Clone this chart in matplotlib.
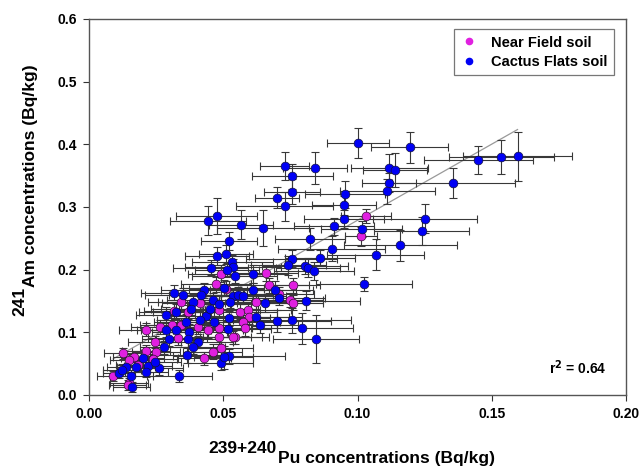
import matplotlib
matplotlib.use("Agg")
import matplotlib.pyplot as plt
from matplotlib.lines import Line2D

plt.rcParams['font.family'] = ['Liberation Sans', 'DejaVu Sans']
plt.rcParams['font.weight'] = 'bold'

# ---- Near Field soil (magenta) ----
nf_x = [0.1031, 0.1014, 0.0490, 0.0474, 0.0511, 0.0660, 0.0670, 0.0708, 0.0760, 0.0750,
        0.0760, 0.0341, 0.0315, 0.0368, 0.0412, 0.0486, 0.0561, 0.0592, 0.0623, 0.0596,
        0.0573, 0.0580, 0.0542, 0.0536, 0.0484, 0.0490, 0.0461, 0.0430, 0.0213, 0.0244,
        0.0265, 0.0310, 0.0331, 0.0343, 0.0405, 0.0443, 0.0486, 0.0250, 0.0213, 0.0169,
        0.0125, 0.0150, 0.0181, 0.0090, 0.0150, 0.0144, 0.0237]
nf_y = [0.2855, 0.2530, 0.1937, 0.1767, 0.1698, 0.1948, 0.1752, 0.1608, 0.1752, 0.1513,
        0.1471, 0.1486, 0.1343, 0.1327, 0.1470, 0.1354, 0.1327, 0.1354, 0.1486, 0.1247,
        0.1168, 0.1062, 0.0929, 0.0918, 0.0929, 0.0743, 0.0690, 0.0584, 0.1045, 0.0849,
        0.1088, 0.1115, 0.0903, 0.1115, 0.1088, 0.1035, 0.1062, 0.0690, 0.0706, 0.0610,
        0.0663, 0.0557, 0.0478, 0.0310, 0.0186, 0.0160, 0.0568]
nf_xerr = [0.0093, 0.0060, 0.012, 0.013, 0.014, 0.012, 0.015, 0.013, 0.010, 0.012,
           0.011, 0.012, 0.011, 0.013, 0.014, 0.015, 0.014, 0.016, 0.013, 0.015,
           0.014, 0.012, 0.013, 0.011, 0.012, 0.012, 0.011, 0.010, 0.010, 0.010,
           0.011, 0.012, 0.011, 0.013, 0.012, 0.013, 0.012, 0.009, 0.009, 0.008,
           0.007, 0.007, 0.008, 0.006, 0.007, 0.007, 0.009]
nf_yerr = [0.011, 0.015, 0.014, 0.012, 0.012, 0.013, 0.012, 0.011, 0.012, 0.011,
           0.012, 0.011, 0.012, 0.011, 0.012, 0.011, 0.012, 0.011, 0.012, 0.012,
           0.011, 0.012, 0.011, 0.010, 0.012, 0.011, 0.012, 0.010, 0.010, 0.010,
           0.011, 0.011, 0.010, 0.011, 0.011, 0.012, 0.011, 0.010, 0.009, 0.009,
           0.009, 0.009, 0.009, 0.008, 0.008, 0.008, 0.009]

# ---- Cactus Flats soil (blue) ----
cf_x = [0.1002, 0.1194, 0.1450, 0.1536, 0.1596, 0.1357, 0.1118, 0.1140, 0.1118, 0.1110,
        0.0953, 0.0950, 0.0949, 0.0912, 0.1015, 0.1251, 0.1239, 0.1160, 0.1068, 0.0904,
        0.1024, 0.0729, 0.0841, 0.0757, 0.0756, 0.0700, 0.0729, 0.0443, 0.0475, 0.0566,
        0.0648, 0.0521, 0.0822,
        0.0476, 0.0509, 0.0534, 0.0536, 0.0514, 0.0454, 0.0542, 0.0611, 0.0755, 0.0743,
        0.0804, 0.0816, 0.0838, 0.0859, 0.0315, 0.0350, 0.0427, 0.0418, 0.0501, 0.0536,
        0.0555, 0.0611, 0.0694, 0.0708, 0.0657, 0.0808, 0.0387, 0.0461, 0.0484, 0.0526,
        0.0573, 0.0285, 0.0325, 0.0380, 0.0434, 0.0449, 0.0362, 0.0412, 0.0467, 0.0523,
        0.0623, 0.0638, 0.0700, 0.0757, 0.0795, 0.0846, 0.0287, 0.0325, 0.0374, 0.0517,
        0.0297, 0.0368, 0.0405, 0.0387, 0.0279, 0.0366, 0.0521, 0.0490, 0.0501, 0.0337,
        0.0200, 0.0219, 0.0260, 0.0175, 0.0138, 0.0113, 0.0123, 0.0157, 0.0159, 0.0213,
        0.0244]
cf_y = [0.402, 0.395, 0.375, 0.380, 0.381, 0.339, 0.3625, 0.359, 0.339, 0.325,
        0.320, 0.303, 0.281, 0.269, 0.265, 0.281, 0.262, 0.239, 0.224, 0.2335,
        0.177, 0.365, 0.362, 0.349, 0.324, 0.315, 0.301, 0.278, 0.2855, 0.272,
        0.267, 0.2457, 0.249,
        0.2218, 0.2245, 0.2122, 0.2040, 0.2000, 0.2028, 0.1900, 0.1927, 0.2176, 0.2070,
        0.2053, 0.2033, 0.1980, 0.2186, 0.1635, 0.1590, 0.1670, 0.1600, 0.1715, 0.1576,
        0.1592, 0.1672, 0.1683, 0.1550, 0.1471, 0.1502, 0.1486, 0.1513, 0.1460, 0.1486,
        0.1576, 0.1274, 0.1327, 0.1380, 0.1258, 0.1380, 0.1168, 0.1194, 0.1157, 0.1221,
        0.1237, 0.1110, 0.1178, 0.1194, 0.1062, 0.0890, 0.1045, 0.1035, 0.1008, 0.1060,
        0.0892, 0.0886, 0.0849, 0.0770, 0.0759, 0.0632, 0.0621, 0.0515, 0.0600, 0.0302,
        0.0584, 0.0462, 0.0425, 0.0451, 0.0451, 0.0355, 0.0398, 0.0302, 0.0133, 0.0372,
        0.0531]
cf_xerr = [0.0116, 0.0143, 0.0203, 0.0196, 0.0203, 0.0230, 0.0143, 0.0120, 0.0100, 0.0177,
           0.0150, 0.0120, 0.0150, 0.0150, 0.0150, 0.0194, 0.0178, 0.0210, 0.0180, 0.0200,
           0.0180, 0.0091, 0.0120, 0.0150, 0.0103, 0.0083, 0.0180, 0.0141, 0.0150, 0.0120,
           0.0170, 0.0105, 0.0130,
           0.012, 0.010, 0.015, 0.018, 0.012, 0.014, 0.016, 0.013, 0.017, 0.014,
           0.016, 0.012, 0.015, 0.013, 0.012, 0.014, 0.016, 0.012, 0.015, 0.018,
           0.013, 0.016, 0.014, 0.017, 0.015, 0.020, 0.013, 0.017, 0.012, 0.014,
           0.016, 0.011, 0.014, 0.015, 0.013, 0.018, 0.012, 0.016, 0.014, 0.015,
           0.017, 0.014, 0.020, 0.022, 0.019, 0.016, 0.011, 0.013, 0.014, 0.016,
           0.010, 0.012, 0.013, 0.012, 0.009, 0.014, 0.021, 0.012, 0.011, 0.012,
           0.008, 0.009, 0.009, 0.007, 0.007, 0.006, 0.007, 0.008, 0.007, 0.008,
           0.010]
cf_yerr = [0.024, 0.025, 0.023, 0.027, 0.039, 0.024, 0.022, 0.027, 0.015, 0.020,
           0.022, 0.015, 0.015, 0.013, 0.013, 0.023, 0.022, 0.025, 0.025, 0.020,
           0.011, 0.0225, 0.025, 0.020, 0.020, 0.017, 0.023, 0.023, 0.029, 0.023,
           0.029, 0.015, 0.017,
           0.014, 0.015, 0.012, 0.013, 0.011, 0.012, 0.012, 0.014, 0.014, 0.015,
           0.012, 0.015, 0.014, 0.012, 0.012, 0.011, 0.012, 0.010, 0.012, 0.011,
           0.013, 0.012, 0.013, 0.012, 0.014, 0.015, 0.012, 0.011, 0.013, 0.010,
           0.012, 0.013, 0.012, 0.011, 0.012, 0.013, 0.012, 0.013, 0.011, 0.012,
           0.014, 0.012, 0.018, 0.020, 0.025, 0.038, 0.012, 0.011, 0.012, 0.013,
           0.011, 0.012, 0.010, 0.011, 0.010, 0.012, 0.012, 0.012, 0.018, 0.010,
           0.010, 0.009, 0.010, 0.009, 0.010, 0.009, 0.010, 0.010, 0.008, 0.009,
           0.010]

# regression line
fit_slope = 2.43
fit_intercept = 0.0358
fit_xrange = [0.0090, 0.1596]
r2_text = "0.64"

x_ticks = [0.00, 0.05, 0.10, 0.15, 0.20]
y_ticks = [0.0, 0.1, 0.2, 0.3, 0.4, 0.5, 0.6]

W, H = 643, 467
fig = plt.figure(figsize=(W / 100, H / 100), dpi=100)
ax = fig.add_axes([89 / W, 1 - 395 / H, (626 - 89) / W, (395 - 19) / H])

blue = '#0000f5'
mag = '#e020e0'
ecol = '#383838'

ax.plot(fit_xrange, [fit_slope * v + fit_intercept for v in fit_xrange],
        color='#999999', lw=0.9, zorder=1)

for xs, ys, xe, ye in [(nf_x, nf_y, nf_xerr, nf_yerr), (cf_x, cf_y, cf_xerr, cf_yerr)]:
    ax.errorbar(xs, ys, xerr=xe, yerr=ye, fmt='none', ecolor=ecol,
                elinewidth=0.8, capsize=3, capthick=0.8, zorder=2)

ax.plot(nf_x, nf_y, 'o', ms=6.3, mfc=mag, mec='#301030', mew=0.5, zorder=3)
ax.plot(cf_x, cf_y, 'o', ms=6.3, mfc=blue, mec='#101040', mew=0.5, zorder=4)

ax.set_xlim(0, 0.2)
ax.set_ylim(0, 0.6)
ax.set_xticks(x_ticks)
ax.set_xticklabels([f"{v:.2f}" for v in x_ticks])
ax.set_yticks(y_ticks)
ax.set_yticklabels([f"{v:.1f}" for v in y_ticks])
ax.tick_params(direction='out', length=4, width=0.8, color='#333333',
               labelsize=10, pad=5)
for lab in ax.get_xticklabels() + ax.get_yticklabels():
    lab.set_fontweight('bold')
for sp in ax.spines.values():
    sp.set_color('#555555')
    sp.set_linewidth(1.0)

handles = [Line2D([], [], ls='none', marker='o', ms=4.5, mfc=mag, mec=mag),
           Line2D([], [], ls='none', marker='o', ms=4.5, mfc=blue, mec=blue)]
leg = fig.legend(handles, ['Near Field soil', 'Cactus Flats soil'],
                 loc='upper right', bbox_to_anchor=(614 / W, 1 - 29 / H),
                 frameon=True, fancybox=False, edgecolor='#555555',
                 prop={'weight': 'bold', 'size': 10.5}, handlelength=1.2,
                 handletextpad=0.9, borderpad=0.45, labelspacing=0.35,
                 borderaxespad=0)
leg.get_frame().set_linewidth(0.9)

ax.text(578 / W, 1 - 368 / H, 'r$^\\mathbf{2}$ = ' + r2_text,
        transform=fig.transFigure, ha='center', va='center',
        fontsize=10, fontweight='bold')

# axis labels with full-size raised prefixes
fs_lab = 12.5
fig.text(278 / W, 1 - 463 / H, 'Pu concentrations (Bq/kg)', ha='left',
         va='baseline', fontsize=fs_lab, fontweight='bold')
fig.text(277 / W, 1 - 453 / H, '239+240', ha='right', va='baseline',
         fontsize=fs_lab, fontweight='bold')
fig.text(31 / W, 1 - 287 / H, 'Am concentrations (Bq/kg)', ha='center',
         va='bottom', rotation=90, fontsize=fs_lab, fontweight='bold')
fig.text(20 / W, 1 - 287 / H, '241', ha='center', va='top', rotation=90,
         fontsize=fs_lab, fontweight='bold')

fig.savefig('out.png', dpi=100)
